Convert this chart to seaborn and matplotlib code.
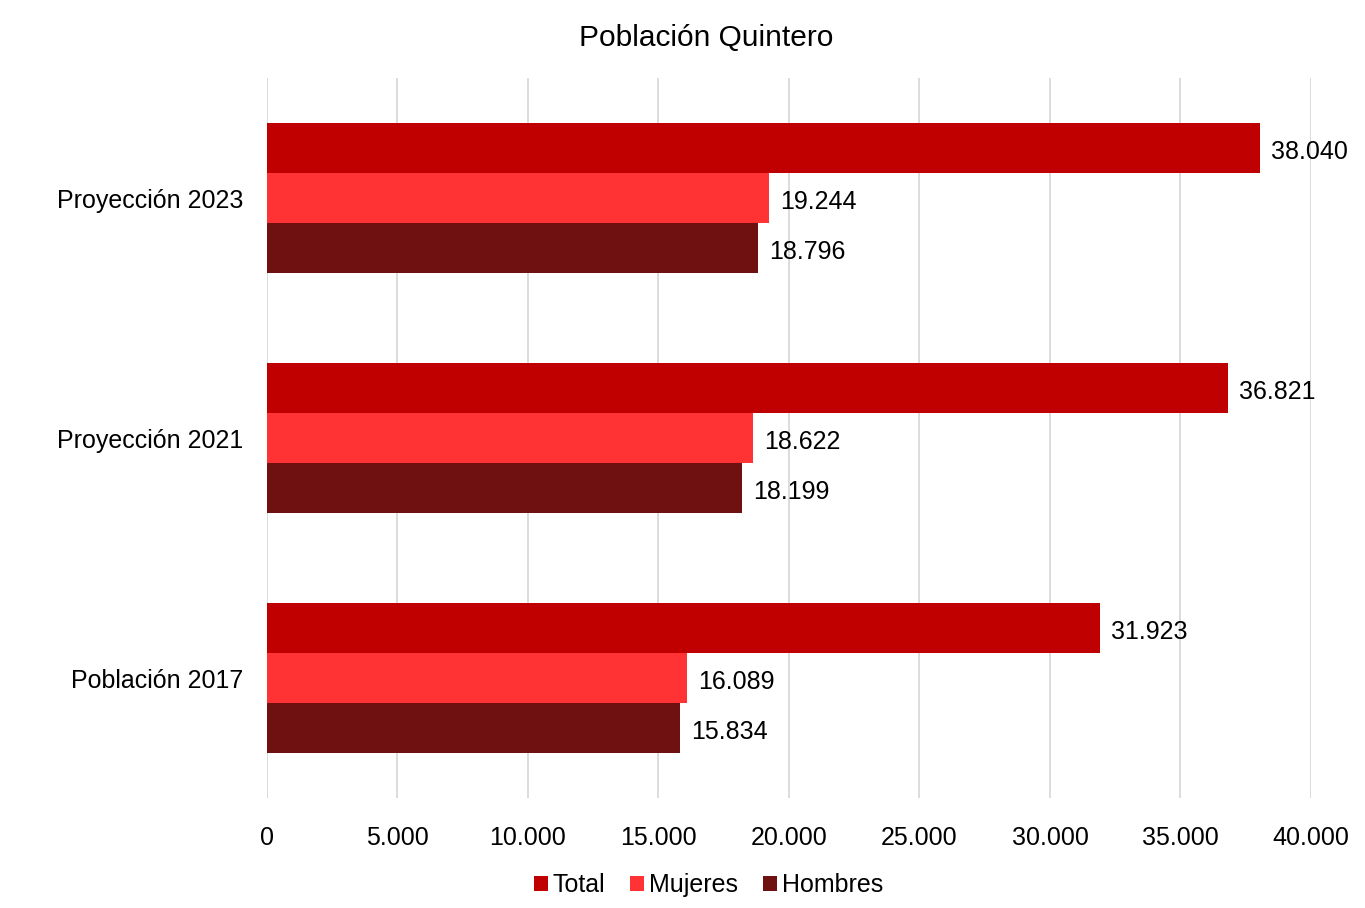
import matplotlib
matplotlib.use("Agg")
import matplotlib.pyplot as plt
import seaborn as sns
import pandas as pd
from matplotlib.patches import Patch

categories = ["Proyección 2023", "Proyección 2021", "Población 2017"]
series = ["Total", "Mujeres", "Hombres"]
total = [38040, 36821, 31923]
mujeres = [19244, 18622, 16089]
hombres = [18796, 18199, 15834]
colors = ["#C00000", "#FF3333", "#701111"]
xticks = [0, 5000, 10000, 15000, 20000, 25000, 30000, 35000, 40000]


def fmt(v):
    return f"{v:,.0f}".replace(",", ".")


rows = []
for name, vals in zip(series, [total, mujeres, hombres]):
    for c, v in zip(categories, vals):
        rows.append({"Categoria": c, "Serie": name, "Valor": v})
df = pd.DataFrame(rows)

sns.set_theme(style="white")
plt.rcParams["font.family"] = ["Liberation Sans", "DejaVu Sans"]
plt.rcParams["text.color"] = "#000000"
plt.rcParams["xtick.color"] = "#000000"
plt.rcParams["ytick.color"] = "#000000"

fig = plt.figure(figsize=(13.65, 9.08), dpi=100)
ax = fig.add_axes([0.1956, 0.121, 0.7648, 0.793])

sns.barplot(data=df, y="Categoria", x="Valor", hue="Serie",
            order=categories, hue_order=series, palette=colors,
            width=0.625, orient="h", ax=ax, legend=False,
            edgecolor="none", saturation=1)

for cont in ax.containers:
    labels = ax.bar_label(cont, labels=[fmt(b.get_width()) for b in cont],
                          padding=8, fontsize=18, color="#000000")
    for t in labels:
        x, y = t.xyann
        t.xyann = (x, y - 3)

ax.set_xlim(0, 40000)
ax.set_ylim(2.5, -0.5)
ax.set_xticks(xticks)
ax.set_xticklabels([fmt(t) for t in xticks], fontsize=18)
ax.tick_params(axis="x", length=0, pad=20, colors="#000000")
ax.tick_params(axis="y", length=0, pad=17, labelsize=18, colors="#000000")
ax.set_xlabel("")
ax.set_ylabel("")
ax.xaxis.grid(True, color="#D9D9D9", linewidth=1.3)
ax.set_axisbelow(True)
for s in ax.spines.values():
    s.set_visible(False)

fig.suptitle("Población Quintero", fontsize=21.5, y=0.974, x=0.517, color="#000000")

handles = [Patch(facecolor=c, edgecolor="none", label=s) for s, c in zip(series, colors)]
fig.legend(handles=handles, loc="center", bbox_to_anchor=(0.519, 0.025), ncol=3,
           frameon=False, fontsize=18, handlelength=0.55, handleheight=0.55,
           handletextpad=0.2, columnspacing=1.0, labelcolor="#000000")

fig.savefig("out.png", dpi=100)
